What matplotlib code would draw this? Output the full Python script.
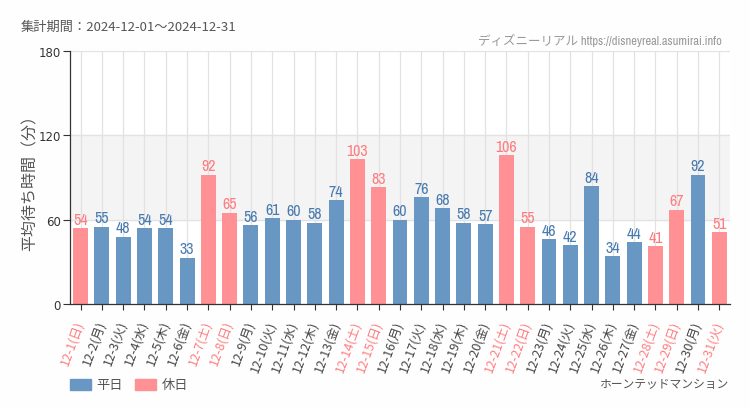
import matplotlib
matplotlib.use("Agg")
import matplotlib.pyplot as plt
from matplotlib import font_manager
from matplotlib.patches import Rectangle

plt.rcParams["font.family"] = ["Noto Sans CJK JP", "DejaVu Sans"]

days = list(range(1, 32))
weekdays = ["日", "月", "火", "水", "木", "金", "土"]
values = [54, 55, 48, 54, 54, 33, 92, 65, 56, 61, 60, 58, 74, 103, 83,
          60, 76, 68, 58, 57, 106, 55, 46, 42, 84, 34, 44, 41, 67, 92, 51]
holidays = [1, 7, 8, 14, 15, 21, 22, 28, 29, 31]
y_ticks = [0, 60, 120, 180]

BLUE = "#6897c4"
BLUE_TXT = "#4a7bb0"
PINK = "#ff9194"
PINK_TXT = "#ff7c80"

# narrow font for numbers if one is installed, otherwise Roboto
installed = {f.name for f in font_manager.fontManager.ttflist}
narrow = [n for n in sorted(installed)
          if "Narrow" in n or "Condensed" in n]
NUM_FONT = narrow[:1] + ["Roboto", "DejaVu Sans"]
NUM_CJK = narrow[:1] + ["Noto Sans CJK JP", "DejaVu Sans"]

labels = [f"12-{d}({weekdays[(d - 1) % 7]})" for d in days]
is_hol = [d in holidays for d in days]
x = list(range(len(days)))

fig = plt.figure(figsize=(7.5, 4.1), dpi=100)
ax = fig.add_axes([0.0933, 0.256, 0.88, 0.617])

ax.axhspan(60, 120, color="#f4f4f4", zorder=0)
for xi in x:
    ax.axvline(xi, color="#e2e2e2", lw=0.9, zorder=1)
for yt in y_ticks[1:]:
    ax.axhline(yt, color="#e2e2e2", lw=0.9, zorder=1)

colors = [PINK if h else BLUE for h in is_hol]
ax.bar(x, values, width=0.7, color=colors, zorder=2)
for xi, v, h in zip(x, values, is_hol):
    ax.text(xi, v + 1.0, str(v), ha="center", va="bottom", fontsize=11.5,
            family=NUM_FONT, color=PINK_TXT if h else BLUE_TXT, zorder=3)

ax.set_xlim(-0.5, len(days) - 0.5)
ax.set_ylim(0, 180)
ax.set_yticks(y_ticks)
ax.set_yticklabels([str(t) for t in y_ticks], family=["DejaVu Sans"],
                   fontsize=8.5, color="#333333")
ax.set_xticks(x)
ax.set_xticklabels(labels, rotation=70, ha="right", va="center",
                   rotation_mode="anchor", fontsize=9)
for lab, h in zip(ax.get_xticklabels(), is_hol):
    lab.set_color(PINK_TXT if h else "#444444")
ax.tick_params(axis="x", length=4, width=0.8, color="#333333", pad=8)
ax.tick_params(axis="y", length=5, width=0.8, color="#333333", pad=1.5)

for side in ["top", "right"]:
    ax.spines[side].set_visible(False)
for side in ["left", "bottom"]:
    ax.spines[side].set_color("#333333")
    ax.spines[side].set_linewidth(0.9)

ax.set_ylabel("平均待ち時間（分）", fontsize=11.5, color="#555555", labelpad=0)

fig.text(21 / 750, 1 - 27 / 410, "集計期間：2024-12-01～2024-12-31",
         fontsize=9.5, color="#555555", va="center", ha="left")
fig.text(722 / 750, 1 - 40 / 410,
         "ディズニーリアル https://disneyreal.asumirai.info",
         fontsize=9, color="#999999", va="center", ha="right",
         family=NUM_CJK)
fig.text(728 / 750, 1 - 385 / 410, "ホーンテッドマンション",
         fontsize=8.5, color="#555555", va="center", ha="right",
         family=NUM_CJK)

# legend
fig.patches.append(Rectangle((70 / 750, 1 - 391 / 410), 21 / 750, 11 / 410,
                             transform=fig.transFigure, color=BLUE))
fig.text(96 / 750, 1 - 385.5 / 410, "平日", fontsize=9.5, color="#555555",
         va="center")
fig.patches.append(Rectangle((135 / 750, 1 - 391 / 410), 21 / 750, 11 / 410,
                             transform=fig.transFigure, color=PINK))
fig.text(162 / 750, 1 - 385.5 / 410, "休日", fontsize=9.5, color="#555555",
         va="center")

fig.savefig("out.png", dpi=100, facecolor="#fdfefd")
